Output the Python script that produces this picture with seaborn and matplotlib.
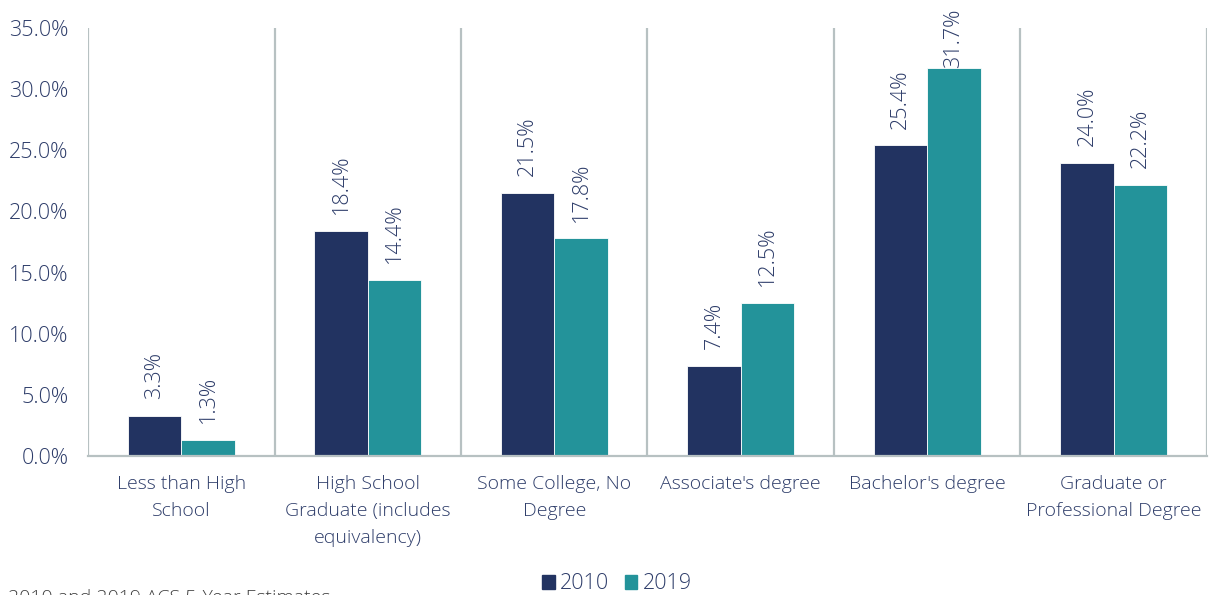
import pandas as pd
import seaborn as sns
import matplotlib.pyplot as plt
from matplotlib.ticker import PercentFormatter

# data (percent of population)
categories = ["Less than High\nSchool",
              "High School\nGraduate (includes\nequivalency)",
              "Some College, No\nDegree",
              "Associate's degree",
              "Bachelor's degree",
              "Graduate or\nProfessional Degree"]
pct_2010 = [3.3, 18.4, 21.5, 7.4, 25.4, 24.0]
pct_2019 = [1.3, 14.4, 17.8, 12.5, 31.7, 22.2]
years = ["2010", "2019"]

df = pd.DataFrame({
    "category": categories * 2,
    "year": [years[0]] * len(categories) + [years[1]] * len(categories),
    "pct": pct_2010 + pct_2019,
})

navy = "#223361"
teal = "#23939A"
txt = "#2E3D6A"
grid = "#B7C1C2"

sns.set_style("white")
plt.rcParams['font.family'] = ['Open Sans', 'DejaVu Sans']
plt.rcParams['font.weight'] = 'light'

fig = plt.figure(figsize=(12.09, 5.95), dpi=100)
ax = fig.add_axes([0.0728, 0.2336, 0.9255, 0.7193])

sns.barplot(data=df, x="category", y="pct", hue="year", order=categories,
            palette=[navy, teal], saturation=1, width=0.575, gap=0, ax=ax,
            edgecolor="white", linewidth=0.6, legend=False)

ax.set_ylim(0, 35)
ax.set_xlim(-0.5, len(categories) - 0.5)
ax.set_yticks(range(0, 36, 5))
ax.yaxis.set_major_formatter(PercentFormatter(decimals=1))
ax.set_xlabel("")
ax.set_ylabel("")

# vertical separators between categories
for i in range(len(categories) + 1):
    ax.axvline(i - 0.5, color=grid, lw=1.6, zorder=0)

for s in ["top", "right", "left"]:
    ax.spines[s].set_visible(False)
ax.spines["bottom"].set_color(grid)
ax.spines["bottom"].set_linewidth(1.6)

ax.tick_params(axis="y", length=0, pad=14, labelsize=15.5, labelcolor=txt)
ax.tick_params(axis="x", length=0, pad=14, labelsize=14, labelcolor=txt)
for lab in ax.get_xticklabels():
    lab.set_linespacing(1.62)

# data labels, rotated; pushed down when they would run past the top
for cont, vals in zip(ax.containers, [pct_2010, pct_2019]):
    texts = ax.bar_label(cont, labels=[f"{v:.1f}%" for v in vals],
                         rotation=90, padding=12, fontsize=15.5, color=txt)
    for t, v in zip(texts, vals):
        if v > 30:
            t.xyann = (0, 0)

handles = [plt.Rectangle((0, 0), 1, 1, color=c) for c in [navy, teal]]
fig.legend(handles, years, loc="center", bbox_to_anchor=(617 / 1209, 0.0185),
           ncol=2, frameon=False, handlelength=0.6, handleheight=0.6,
           handletextpad=0.25, columnspacing=0.7, fontsize=15.5,
           labelcolor=txt)

fig.text(0.007, 0.0105, "2010 and 2019 ACS 5-Year Estimates", va="top",
         ha="left", fontsize=14, color="#404040")

fig.savefig("out.png", dpi=100)
